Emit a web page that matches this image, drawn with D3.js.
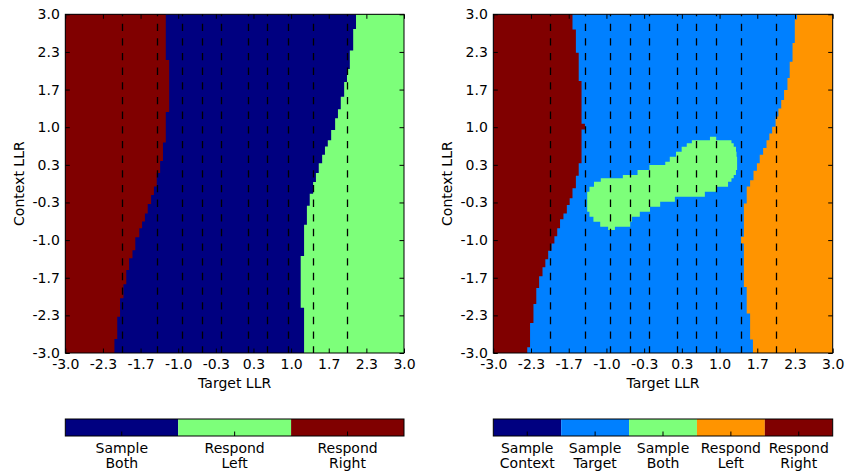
<!DOCTYPE html>
<html><head><meta charset="utf-8">
<script src="https://cdn.jsdelivr.net/npm/d3@7"></script>
<style>
body{margin:0;background:#fff}
text{font-family:"DejaVu Sans",sans-serif}
</style>
</head><body>
<svg id="c" width="866" height="472"></svg>
<script>
// ---------- data ----------
const tickValues = [-3.0, -2.3333, -1.6667, -1.0, -0.3333, 0.3333, 1.0, 1.6667, 2.3333, 3.0];
const tickLabels = ["-3.0", "-2.3", "-1.7", "-1.0", "-0.3", "0.3", "1.0", "1.7", "2.3", "3.0"];
const dashX = [-1.99, -1.38, -0.94, -0.58, -0.24, 0.24, 0.58, 0.94, 1.38, 1.99];

// Left panel: "Respond Right" boundary (band edges in context LLR, boundary in target LLR)
const leftRightY = [3.0, 2.19, 1.27, 0.73, 0.40, 0.19, -0.05, -0.20, -0.36, -0.53, -0.67, -0.79, -0.95, -1.18, -1.32, -1.53, -1.78, -2.03, -2.36, -2.75, -3.0];
const leftRightX = [-1.22, -1.16, -1.22, -1.27, -1.32, -1.38, -1.43, -1.48, -1.54, -1.59, -1.64, -1.69, -1.76, -1.81, -1.87, -1.92, -1.97, -2.03, -2.08, -2.13];
// Left panel: "Respond Left" boundary
const leftLeftY = [3.0, 2.74, 2.36, 2.03, 1.80, 1.54, 1.32, 1.16, 0.95, 0.77, 0.66, 0.51, 0.36, 0.19, 0.03, -0.18, -0.39, -0.73, -1.28, -2.20, -3.0];
const leftLeftX = [2.15, 2.10, 2.04, 1.99, 1.94, 1.88, 1.83, 1.78, 1.71, 1.65, 1.60, 1.55, 1.49, 1.44, 1.39, 1.33, 1.28, 1.23, 1.17, 1.23];

// Right panel: "Respond Right" boundary
const rightRightY = [3.0, 2.73, 2.32, 1.82, 1.06, 0.96, 0.36, 0.14, -0.08, -0.26, -0.38, -0.53, -0.63, -0.79, -0.93, -1.06, -1.19, -1.34, -1.48, -1.64, -1.85, -2.13, -2.47, -2.90, -3.0];
const rightRightX = [-1.60, -1.54, -1.49, -1.44, -1.38, -1.44, -1.49, -1.54, -1.60, -1.65, -1.70, -1.76, -1.82, -1.87, -1.92, -1.97, -2.03, -2.08, -2.13, -2.19, -2.24, -2.29, -2.35, -2.40];
// Right panel: "Respond Left" boundary
const rightLeftY = [3.0, 2.91, 2.49, 2.16, 1.87, 1.66, 1.48, 1.33, 1.19, 1.01, 0.89, 0.77, 0.63, 0.51, 0.36, 0.23, 0.06, -0.05, -0.35, -0.94, -1.06, -1.83, -2.30, -2.76, -3.0];
const rightLeftX = [2.37, 2.33, 2.29, 2.24, 2.20, 2.14, 2.09, 2.04, 1.99, 1.93, 1.88, 1.83, 1.77, 1.71, 1.66, 1.60, 1.54, 1.48, 1.43, 1.38, 1.43, 1.48, 1.54, 1.59];
// Right panel: "Sample Both" blob (band edges, left and right target LLR)
const blobY = [0.83, 0.77, 0.715, 0.655, 0.566, 0.477, 0.389, 0.330, 0.242, 0.153, 0.095, 0.035, -0.054, -0.143, -0.231, -0.320, -0.408, -0.497, -0.585, -0.674, -0.763, -0.821];
const blobX0 = [0.83, 0.51, 0.42, 0.33, 0.23, 0.12, 0.04, -0.24, -0.45, -0.71, -1.10, -1.22, -1.30, -1.34, -1.34, -1.34, -1.34, -1.30, -1.23, -1.11, -0.97];
const blobX1 = [0.94, 1.21, 1.25, 1.29, 1.30, 1.31, 1.31, 1.31, 1.29, 1.25, 1.21, 1.15, 0.95, 0.74, 0.21, -0.05, -0.23, -0.41, -0.55, -0.58, -0.85];

const leftCats = ["Sample\nBoth", "Respond\nLeft", "Respond\nRight"];
const leftColors = ["#000080", "#7dff7a", "#800000"];
const rightCats = ["Sample\nContext", "Sample\nTarget", "Sample\nBoth", "Respond\nLeft", "Respond\nRight"];
const rightColors = ["#000080", "#0080ff", "#7dff7a", "#ff9400", "#800000"];

// ---------- drawing ----------
const svg = d3.select("#c");
const FS = 14;
const plotTop = 14.3, plotBottom = 353;

function bandPoints(ys, xs) {
  const pts = [];
  xs.forEach((xv, i) => { pts.push([xv, ys[i]]); pts.push([xv, ys[i + 1]]); });
  return pts;
}

function panel(left, right, bgColor, leftColor, rightColor, rY, rX, lY, lX, blob) {
  const x = d3.scaleLinear([-3, 3], [left, right]);
  const y = d3.scaleLinear([-3, 3], [plotBottom, plotTop]);
  const line = d3.line().x(d => x(d[0])).y(d => y(d[1]));
  const g = svg.append("g");
  g.append("rect").attr("x", x(-3)).attr("y", y(3)).attr("width", x(3) - x(-3)).attr("height", y(-3) - y(3)).attr("fill", bgColor);
  const rp = bandPoints(rY, rX);
  g.append("path").attr("d", line([[-3, 3], ...rp, [-3, -3]]) + "Z").attr("fill", rightColor).attr("stroke", "none");
  const lp = bandPoints(lY, lX);
  g.append("path").attr("d", line([[3, 3], ...lp, [3, -3]]) + "Z").attr("fill", leftColor).attr("stroke", "none");
  if (blob) {
    const a = bandPoints(blob.y, blob.x0);
    const b = bandPoints(blob.y, blob.x1).reverse();
    g.append("path").attr("d", line([...a, ...b]) + "Z").attr("fill", blob.color).attr("stroke", "none");
  }
  g.selectAll("line.dash").data(dashX).join("line").attr("class", "dash")
    .attr("x1", d => Math.round(x(d)) + 0.5).attr("x2", d => Math.round(x(d)) + 0.5)
    .attr("y1", y(3)).attr("y2", y(-3))
    .attr("stroke", "#000").attr("stroke-width", 1.3)
    .attr("stroke-dasharray", "7.33,7.33").attr("stroke-dashoffset", 5.33);
  const fmt = (d, i) => tickLabels[i];
  const ax = [
    g.append("g").attr("transform", `translate(0,${plotBottom})`).call(d3.axisBottom(x).tickValues(tickValues).tickFormat(fmt).tickSizeInner(-4.5).tickSizeOuter(0).tickPadding(6)),
    g.append("g").attr("transform", `translate(0,${plotTop})`).call(d3.axisTop(x).tickValues(tickValues).tickFormat("").tickSizeInner(-4.5).tickSizeOuter(0)),
    g.append("g").attr("transform", `translate(${left},0)`).call(d3.axisLeft(y).tickValues(tickValues).tickFormat(fmt).tickSizeInner(-4.5).tickSizeOuter(0).tickPadding(5.5)),
    g.append("g").attr("transform", `translate(${right},0)`).call(d3.axisRight(y).tickValues(tickValues).tickFormat("").tickSizeInner(-4.5).tickSizeOuter(0))
  ];
  ax.forEach(a => {
    a.select(".domain").remove();
    a.selectAll("line").attr("stroke", "#000").attr("stroke-width", 1);
    a.selectAll("text").attr("font-family", "DejaVu Sans").attr("font-size", FS).attr("fill", "#000");
  });
  g.append("rect").attr("x", x(-3)).attr("y", y(3)).attr("width", x(3) - x(-3)).attr("height", y(-3) - y(3))
    .attr("fill", "none").attr("stroke", "#000").attr("stroke-width", 1);
  g.append("text").attr("x", (left + right) / 2).attr("y", 388).attr("text-anchor", "middle").attr("font-size", FS).text("Target LLR");
  g.append("text").attr("transform", `translate(${left - 41},${(plotTop + plotBottom) / 2}) rotate(-90)`).attr("text-anchor", "middle").attr("font-size", FS).text("Context LLR");
}

function colorbar(left, right, cats, colors) {
  const x = d3.scaleBand().domain(cats).range([left, right]).padding(0);
  const g = svg.append("g");
  const cy0 = 419, cy1 = 436;
  g.selectAll("rect.seg").data(cats).join("rect").attr("class", "seg")
    .attr("x", d => x(d)).attr("y", cy0).attr("width", x.bandwidth()).attr("height", cy1 - cy0)
    .attr("fill", (d, i) => colors[i]);
  g.selectAll("line.tk").data(cats).join("line").attr("class", "tk")
    .attr("x1", d => x(d) + x.bandwidth() / 2).attr("x2", d => x(d) + x.bandwidth() / 2)
    .attr("y1", cy1).attr("y2", cy1 - 4.5).attr("stroke", "#000").attr("stroke-width", 1);
  g.append("rect").attr("x", left).attr("y", cy0).attr("width", right - left).attr("height", cy1 - cy0)
    .attr("fill", "none").attr("stroke", "#000").attr("stroke-width", 1);
  const t = g.selectAll("text.lb").data(cats).join("text").attr("class", "lb")
    .attr("text-anchor", "middle").attr("font-size", FS);
  t.each(function (d) {
    const parts = d.split("\n");
    const cx = x(d) + x.bandwidth() / 2;
    d3.select(this).selectAll("tspan").data(parts).join("tspan")
      .attr("x", cx).attr("y", (p, i) => 452.5 + i * 15).text(p => p);
  });
}

panel(65.3, 404, "#000080", "#7dff7a", "#800000", leftRightY, leftRightX, leftLeftY, leftLeftX, null);
panel(493.3, 832.7, "#0080ff", "#ff9400", "#800000", rightRightY, rightRightX, rightLeftY, rightLeftX,
  { y: blobY, x0: blobX0, x1: blobX1, color: "#7dff7a" });
colorbar(65.3, 404, leftCats, leftColors);
colorbar(493.3, 832.7, rightCats, rightColors);
</script>
</body></html>
